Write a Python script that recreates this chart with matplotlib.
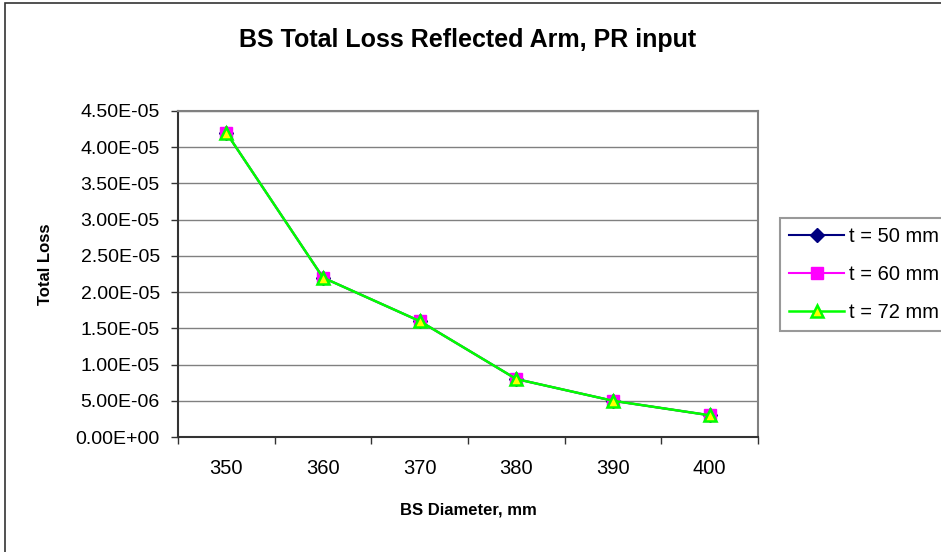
import matplotlib.pyplot as plt
import matplotlib.patches as patches
from matplotlib.ticker import FuncFormatter, MultipleLocator

plt.rcParams['font.family'] = ['Liberation Sans', 'DejaVu Sans']

diameters = ["350", "360", "370", "380", "390", "400"]
loss_t50 = [4.2e-5, 2.2e-5, 1.6e-5, 8.0e-6, 5.0e-6, 3.0e-6]
loss_t60 = [4.2e-5, 2.2e-5, 1.6e-5, 8.0e-6, 5.0e-6, 3.0e-6]
loss_t72 = [4.2e-5, 2.2e-5, 1.6e-5, 8.0e-6, 5.0e-6, 3.0e-6]

fig = plt.figure(figsize=(9.41, 5.52), dpi=100)
ax = fig.add_axes([178/941, 1 - 437/552, (758 - 178)/941, (437 - 111)/552])

x = list(range(len(diameters)))
ax.plot(x, loss_t50, color="#000080", marker="D", markersize=7,
        markerfacecolor="#000080", markeredgecolor="#000080", lw=1.5, label="t = 50 mm")
ax.plot(x, loss_t60, color="#FF00FF", marker="s", markersize=8.5,
        markerfacecolor="#FF00FF", markeredgecolor="#FF00FF", lw=1.5, label="t = 60 mm")
ax.plot(x, loss_t72, color="#00FF00", marker="^", markersize=9, markeredgewidth=1.8,
        markerfacecolor="#FFFF00", markeredgecolor="#00FF00", lw=1.8, label="t = 72 mm")

ax.set_xlim(-0.5, len(diameters) - 0.5)
ax.set_ylim(0, 4.5e-5)
ax.yaxis.set_major_locator(MultipleLocator(5e-6))
ax.yaxis.set_major_formatter(FuncFormatter(lambda v, p: f"{v:.2E}"))
ax.set_xticks(x)
ax.set_xticklabels(diameters)
ax.set_xticks([i - 0.5 for i in range(len(diameters) + 1)], minor=True)
ax.tick_params(axis="x", which="major", length=0, pad=16, labelsize=14.5)
ax.tick_params(axis="x", which="minor", length=5, width=1, color="#333333", direction="out")
ax.tick_params(axis="y", length=5, width=1, color="#333333", pad=8, labelsize=14)

ax.grid(axis="y", color="#808080", lw=1)
ax.set_axisbelow(True)
for s in ["top", "right"]:
    ax.spines[s].set_color("#808080")
    ax.spines[s].set_linewidth(1.5)
for s in ["left", "bottom"]:
    ax.spines[s].set_color("#333333")
    ax.spines[s].set_linewidth(1.5)

fig.text(0.497, 1 - 40/552, "BS Total Loss Reflected Arm, PR input",
         ha="center", va="center", fontsize=18, fontweight="bold")
fig.text(468/941, 1 - 510/552, "BS Diameter, mm", ha="center", va="center",
         fontsize=12, fontweight="bold")
fig.text(45/941, 1 - 264/552, "Total Loss", ha="center", va="center",
         rotation=90, fontsize=12, fontweight="bold")

leg = fig.legend(loc="upper left", bbox_to_anchor=(780/941, 1 - 218/552),
                 fontsize=14.5, frameon=True, fancybox=False, edgecolor="#808080",
                 handlelength=2.75, handletextpad=0.25, borderpad=0.45,
                 labelspacing=0.95, borderaxespad=0)
leg.get_frame().set_linewidth(1.5)

fig.patches.append(patches.Rectangle((5/941, -0.05), 1.1, 1 - 3/552 + 0.05,
                                     transform=fig.transFigure, fill=False,
                                     edgecolor="#333333", lw=1.2))

fig.savefig("out.png", dpi=100)
